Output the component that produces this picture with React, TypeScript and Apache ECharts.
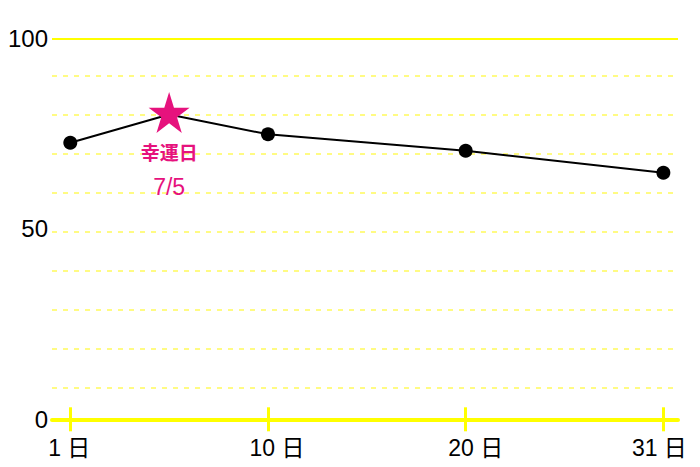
import React, { useEffect, useRef } from "react";
import * as echarts from "echarts";

// x positions: 0 = 1日, 1 = 10日, 2 = 20日, 3 = 31日 (star sits halfway, 7/5)
const tickLabels = ["1 日", "10 日", "20 日", "31 日"];
const tickPositions = [0, 1, 2, 3];
const pointX = [0, 0.5, 1, 2, 3];
const pointY = [72.6, 80, 74.8, 70.5, 64.7];
const luckyIndex = 1;
const luckyTitle = "幸運日";
const luckyDate = "7/5";
const yLabelValues = [0, 50, 100];
const guideValues = [90.18, 79.95, 69.71, 59.48, 49.24, 39.0, 28.77, 18.54, 8.29];

const STAR =
  "path://M50,0 L61.23,34.55 L97.55,34.55 L68.17,55.9 L79.39,90.45 L50,69.1 L20.61,90.45 L31.83,55.9 L2.45,34.55 L38.77,34.55 Z";

const PINK = "#e6127d";
const FONT = "'Liberation Sans', 'Noto Sans CJK JP', sans-serif";
const CJK = "'Noto Sans CJK JP', sans-serif";

export default function App() {
  const ref = useRef<HTMLDivElement>(null);
  useEffect(() => {
    document.body.style.margin = "0";
    if (!ref.current) return;
    const chart = echarts.init(ref.current, null, { renderer: "svg" });

    const data = pointX.map((x, i) => {
      if (i === luckyIndex) {
        return {
          value: [x, pointY[i]],
          symbol: STAR,
          symbolSize: [41, 41],
          symbolOffset: [0, -2],
          itemStyle: { color: PINK },
          label: {
            show: true,
            position: "bottom",
            distance: 0,
            formatter: `{a|${luckyTitle}}\n{b|${luckyDate}}`,
            rich: {
              a: { color: PINK, fontSize: 19, fontWeight: "bold", lineHeight: 36, fontFamily: CJK },
              b: { color: PINK, fontSize: 23, fontWeight: "normal", lineHeight: 36, fontFamily: FONT },
            },
          },
        };
      }
      return { value: [x, pointY[i]] };
    });

    const base = { fontSize: 23, color: "#000", fontFamily: FONT };
    const labelRich: any = {
      r0: { ...base, padding: [0, 2, 0, 0] },
      r1: { ...base, padding: [0, 0, 0, 18] },
      r2: { ...base, padding: [0, 0, 0, 20] },
      r3: { ...base, padding: [0, 8, 0, 0] },
    };

    chart.setOption({
      animation: false,
      grid: {
        left: 52,
        right: 22,
        top: 38.3,
        bottom: 47.7,
        containLabel: false,
        outerBoundsMode: "none",
      },
      xAxis: [
        {
          type: "value",
          min: -0.0925,
          max: 3.074,
          position: "bottom",
          splitLine: { show: false },
          axisLine: { show: true, lineStyle: { color: "#ffff00", width: 4 } },
          axisTick: {
            show: true,
            customValues: tickPositions,
            length: 12,
            inside: false,
            lineStyle: { color: "#ffff00", width: 3 },
          },
          axisLabel: {
            show: true,
            customValues: tickPositions,
            margin: 17,
            formatter: (v: number) => {
              const i = tickPositions.indexOf(Math.round(v));
              return `{r${i}|${tickLabels[i]}}`;
            },
            rich: labelRich,
          },
        },
        {
          type: "value",
          min: -0.0925,
          max: 3.074,
          position: "bottom",
          splitLine: { show: false },
          axisLine: { show: false },
          axisLabel: { show: false },
          axisTick: {
            show: true,
            customValues: tickPositions,
            length: 12,
            inside: true,
            lineStyle: { color: "#ffff00", width: 3 },
          },
        },
      ],
      yAxis: {
        type: "value",
        min: 0,
        max: 100,
        interval: 50,
        splitLine: { show: false },
        axisLine: { show: false },
        axisTick: { show: false },
        axisLabel: {
          customValues: yLabelValues,
          color: "#000",
          fontSize: 24,
          fontFamily: FONT,
          margin: 4,
          padding: [0, 0, 5, 0],
        },
      },
      series: [
        {
          type: "line",
          data: [],
          z: 0,
          silent: true,
          markLine: {
            silent: true,
            z: 0,
            symbol: "none",
            label: { show: false },
            animation: false,
            data: [
              ...guideValues.map((v) => ({
                yAxis: v,
                lineStyle: { color: "rgba(255,250,90,0.75)", width: 2, type: [5, 6] },
              })),
              { yAxis: 100, lineStyle: { color: "#ffff00", width: 2, type: "solid" } },
            ],
          },
        },
        {
          type: "line",
          z: 3,
          data,
          symbol: "circle",
          symbolSize: 14,
          itemStyle: { color: "#000" },
          lineStyle: { color: "#000", width: 2 },
        },
      ],
    });
    return () => chart.dispose();
  }, []);
  return <div ref={ref} style={{ width: 700, height: 467 }} />;
}
